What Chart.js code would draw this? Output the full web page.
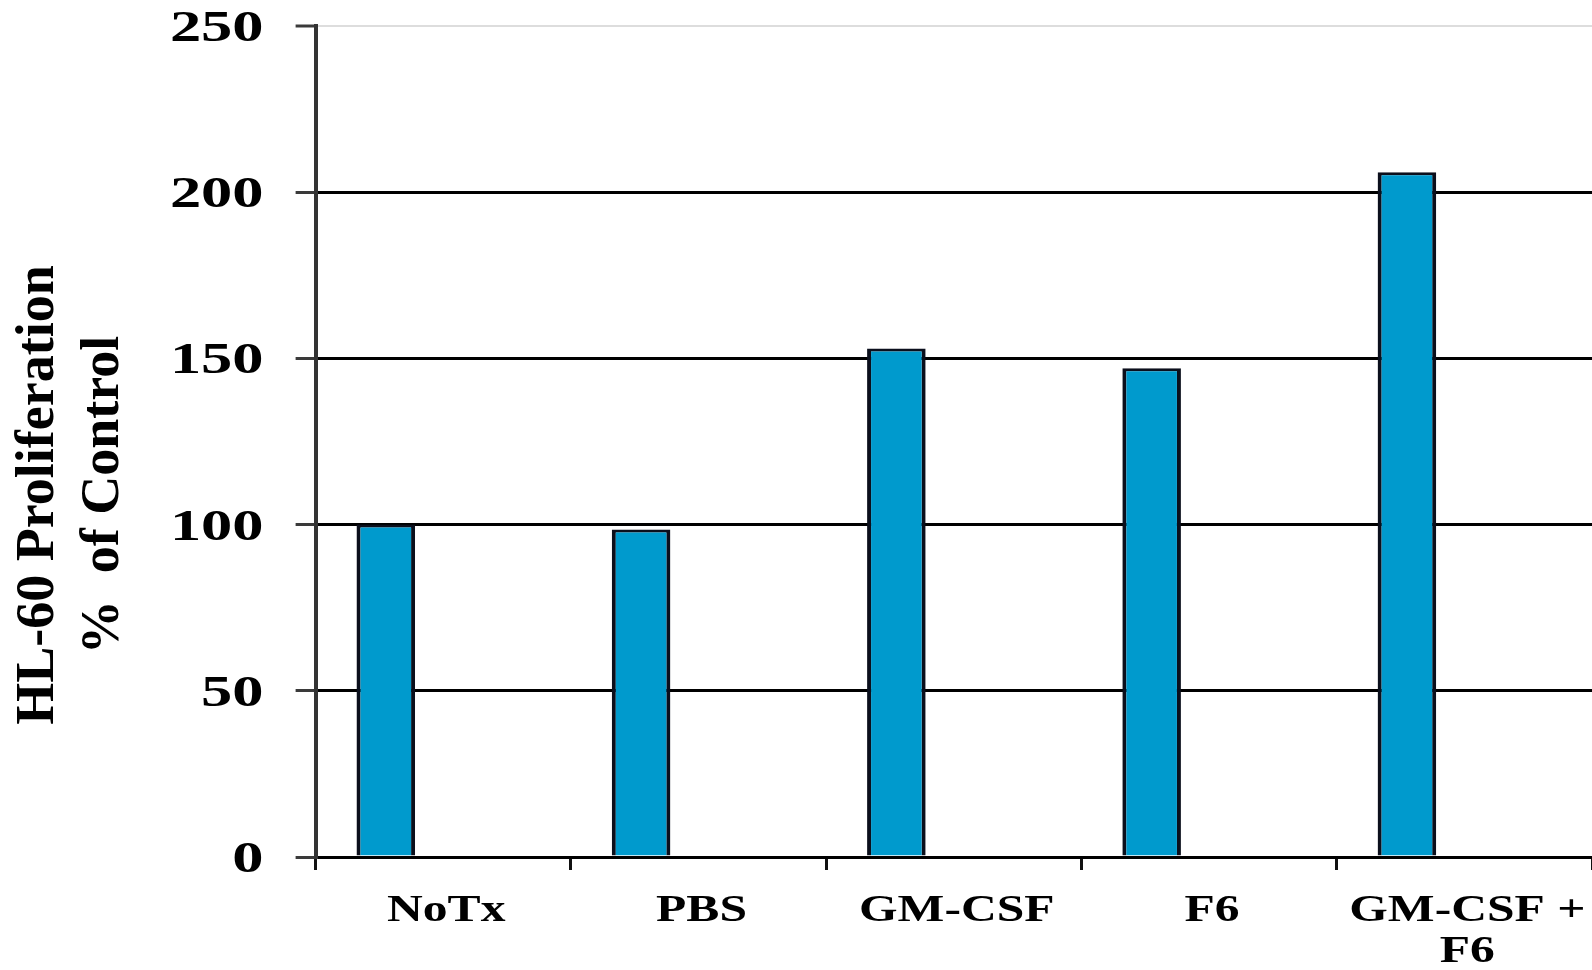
<!DOCTYPE html>
<html>
<head>
<meta charset="utf-8">
<title>HL-60 Proliferation</title>
<script src="https://cdn.jsdelivr.net/npm/chart.js@4/dist/chart.umd.min.js"></script>
<style>
  html, body { margin: 0; padding: 0; background: #ffffff; }
  #wrap { width: 1592px; height: 970px; }
</style>
</head>
<body>
<div id="wrap"><canvas id="c" width="1592" height="970"></canvas></div>
<script>
// Treatment groups along the x axis (last one wraps onto two lines)
const categories = ['NoTx', 'PBS', 'GM-CSF', 'F6', ['GM-CSF +', 'F6']];
// HL-60 proliferation, % of untreated control
const proliferation = [100, 98.5, 153, 147, 206];
// second slot of each group is left empty, so the bars sit left of centre
const emptySlot = [null, null, null, null, null];
// y axis tick values
const yTickValues = [0, 50, 100, 150, 200, 250];
// y axis title lines
const yTitleLines = ['HL-60 Proliferation', '%  of Control'];

const SERIF = '"Liberation Serif", "Times New Roman", serif';
const Y_TICK_LEN = 20;
const Y_LABEL_GAP = 32;
const X_TICK_LEN = 13;

// Tick labels are set in a wide bold serif: drawn here with a horizontal stretch,
// positioned from the chart's own scales.
const wideTickLabels = {
  id: 'wideTickLabels',
  afterDraw(chart) {
    const { ctx } = chart;
    const x = chart.scales.x;
    const y = chart.scales.y;
    ctx.save();
    ctx.fillStyle = '#000000';
    ctx.textBaseline = 'alphabetic';

    ctx.font = 'bold 44px ' + SERIF;
    ctx.textAlign = 'right';
    const yRight = y.right - Y_TICK_LEN - Y_LABEL_GAP;
    y.ticks.forEach(t => {
      const py = y.getPixelForValue(t.value);
      ctx.save();
      ctx.translate(yRight, py + 15);
      ctx.scale(1.42, 1);
      ctx.fillText(String(t.value), 0, 0);
      ctx.restore();
    });

    ctx.font = 'bold 37px ' + SERIF;
    ctx.textAlign = 'center';
    categories.forEach((lab, i) => {
      const px = x.getPixelForValue(i) + 3;
      const lines = Array.isArray(lab) ? lab : [lab];
      lines.forEach((line, k) => {
        ctx.save();
        ctx.translate(px, x.top + 64 + k * 41);
        ctx.scale(1.34, 1);
        ctx.fillText(line, 0, 0);
        ctx.restore();
      });
    });
    ctx.restore();
  }
};

new Chart(document.getElementById('c'), {
  type: 'bar',
  data: {
    labels: categories,
    datasets: [
      {
        label: 'HL-60 proliferation',
        data: proliferation,
        backgroundColor: '#009ACD',
        borderColor: '#0B0F1C',
        borderWidth: { top: 3, left: 4, right: 4, bottom: 0 },
        borderSkipped: false,
        categoryPercentage: 0.9,
        barPercentage: 0.51
      },
      {
        label: '',
        data: emptySlot,
        backgroundColor: 'rgba(0,0,0,0)',
        categoryPercentage: 0.9,
        barPercentage: 0.51
      }
    ]
  },
  options: {
    responsive: false,
    animation: false,
    devicePixelRatio: 1,
    layout: { padding: { top: 26, bottom: 6, left: 0, right: -2 } },
    plugins: {
      legend: { display: false },
      tooltip: { enabled: false },
      title: {
        display: true,
        position: 'left',
        text: yTitleLines,
        color: '#000000',
        font: { family: SERIF, size: 54, weight: 'bold', lineHeight: 1.2 },
        padding: { top: 7, bottom: 0 }
      }
    },
    scales: {
      x: {
        offset: true,
        ticks: { display: false },
        border: { display: false },
        grid: {
          offset: true,
          drawOnChartArea: false,
          drawTicks: true,
          tickLength: X_TICK_LEN,
          tickColor: '#111111',
          tickWidth: 3
        },
        afterFit(scale) { scale.height = 107; }
      },
      y: {
        min: 0,
        max: 250,
        afterBuildTicks(scale) { scale.ticks = yTickValues.map(v => ({ value: v })); },
        ticks: { display: false },
        border: { display: true, color: '#333333', width: 4 },
        grid: {
          color: c => (c.tick && c.tick.value === 250 ? '#DDDDDD' : '#000000'),
          lineWidth: c => (c.tick && c.tick.value === 250 ? 2 : 3),
          drawTicks: true,
          tickLength: Y_TICK_LEN,
          tickColor: '#3A3A3A',
          tickWidth: 3
        },
        afterFit(scale) { scale.width = 316 - 137; }
      }
    }
  },
  plugins: [wideTickLabels]
});
</script>
</body>
</html>
